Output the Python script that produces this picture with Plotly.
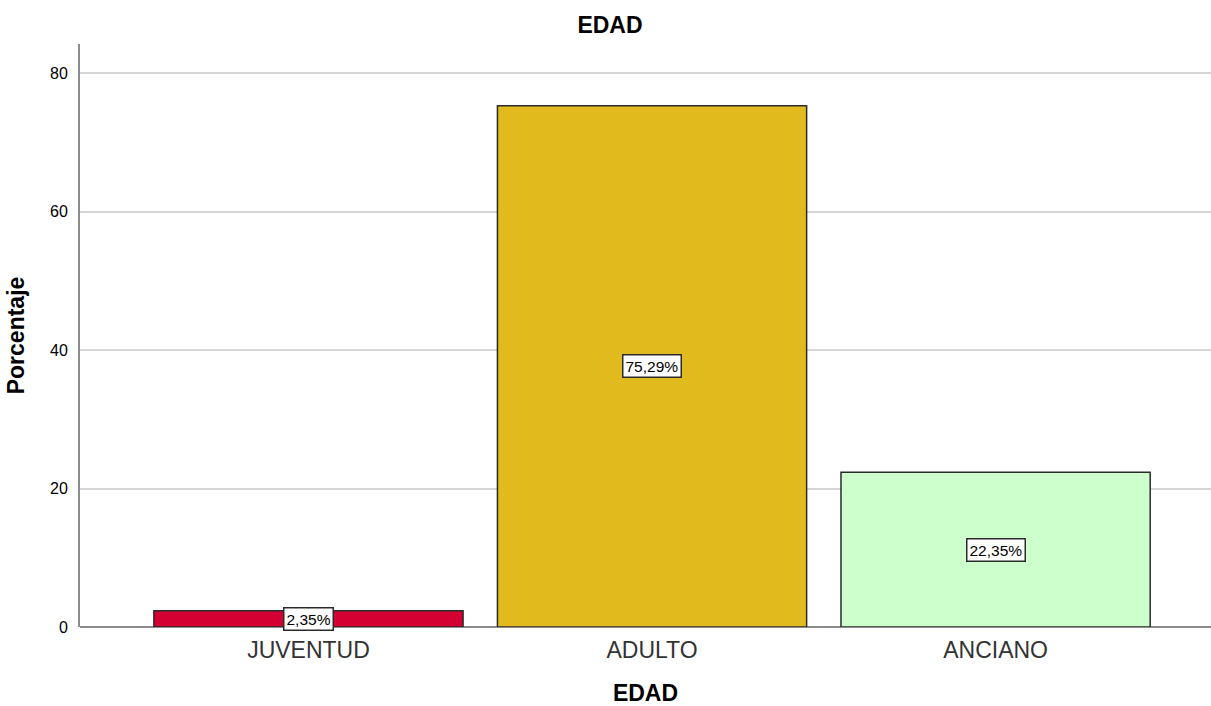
import plotly.graph_objects as go

# Age-group distribution (percent of respondents)
categories = ["JUVENTUD", "ADULTO", "ANCIANO"]
percentages = [2.35, 75.29, 22.35]
value_labels = ["2,35%", "75,29%", "22,35%"]
bar_colors = ["#d50032", "#e1ba1e", "#ccffcc"]
y_ticks = [0, 20, 40, 60, 80]

FONT = "Liberation Sans, Arial, sans-serif"

fig = go.Figure()
fig.add_trace(go.Bar(
    x=categories,
    y=percentages,
    width=0.9,
    marker=dict(color=bar_colors, line=dict(color="#2b2b2b", width=1.5)),
    hoverinfo="skip",
))

# value boxes centred vertically in each bar
for cat, val, txt in zip(categories, percentages, value_labels):
    fig.add_annotation(
        x=cat, y=val / 2, text=txt, showarrow=False,
        font=dict(family=FONT, size=15.5, color="#000000"),
        bgcolor="#ffffff", bordercolor="#2b2b2b", borderwidth=1.5, borderpad=2,
    )

fig.update_layout(
    width=1211, height=706,
    margin=dict(l=80, r=0, t=44, b=79),
    paper_bgcolor="#ffffff", plot_bgcolor="#ffffff",
    showlegend=False,
    bargap=0.1,
    font=dict(family=FONT, color="#000000"),
    title=dict(text="<b>EDAD</b>", x=610 / 1211, xanchor="center", xref="container",
               y=1 - 25 / 706, yanchor="middle", yref="container",
               font=dict(family=FONT, size=23, color="#000000")),
    xaxis=dict(
        type="category",
        range=[-0.665, 2.627],
        showgrid=False,
        showline=False,
        zeroline=False,
        ticks="",
        ticklabelstandoff=7,
        tickfont=dict(family=FONT, size=23, color="#333333"),
        title=dict(text="<b>EDAD</b>", standoff=28,
                   font=dict(family=FONT, size=23, color="#000000")),
    ),
    yaxis=dict(
        range=[0, 84.2],
        tickvals=y_ticks,
        showgrid=True, gridcolor="#d6d6d6", gridwidth=2,
        showline=True, linecolor="#8c8c8c", linewidth=2,
        zeroline=True, zerolinecolor="#8c8c8c", zerolinewidth=2,
        ticks="", ticklabelstandoff=7,
        tickfont=dict(family=FONT, size=16, color="#000000"),
        title=dict(text="<b>Porcentaje</b>", standoff=19,
                   font=dict(family=FONT, size=23, color="#000000")),
    ),
)

fig.write_html("out.html")
